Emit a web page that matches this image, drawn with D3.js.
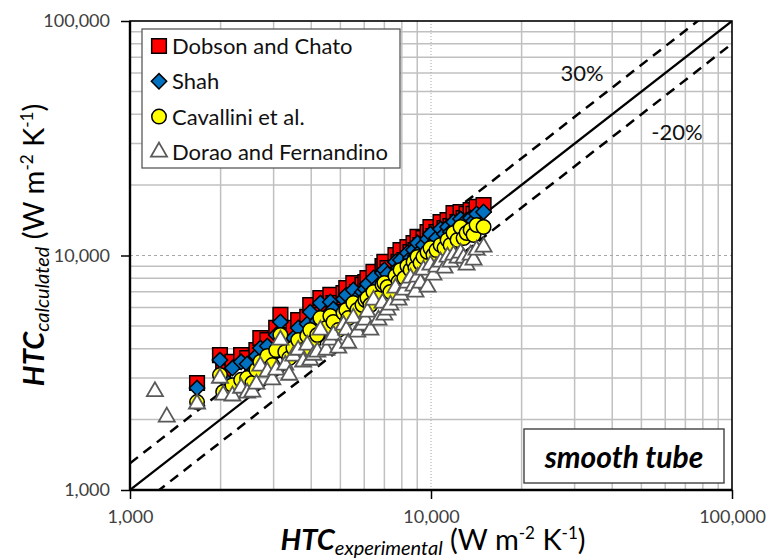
<!DOCTYPE html>
<html>
<head>
<meta charset="utf-8">
<script src="https://cdn.jsdelivr.net/npm/d3@7"></script>
<style>
    body { margin: 0; background: #fff; }
    svg { font-family: Lato, 'Open Sans', sans-serif; }
    .grid line { stroke: #c0c0c0; stroke-width: 1.5; }
    .axis text { fill: #404040; font-size: 18px; font-family: Lato, sans-serif; }
    .axis line { stroke: #000; stroke-width: 1.5; }
</style>
</head>
<body>
<svg width="766" height="560"></svg>
<script>
const axisRange = [1000, 100000];
const decades = [1000, 10000, 100000];

const seriesNames = ['Dobson and Chato', 'Shah', 'Cavallini et al.', 'Dorao and Fernandino'];

// HTC experimental (W m-2 K-1), shared by all four correlations
const htcExp = [1210, 1325, 1670, 1990, 2040, 2190, 2340, 2450, 2550, 2630, 2710, 2860,
    2970, 3060, 3160, 3280, 3380, 3490, 3620, 3760, 3880, 3970, 4070, 4190, 4290, 4490,
    4630, 4740, 4920, 5120, 5230, 5310, 5520, 5690, 5920, 6050, 6150, 6290, 6440, 6690,
    6900, 7000, 7170, 7330, 7620, 7800, 7920, 8160, 8350, 8550, 8750, 8880, 9020, 9230,
    9440, 9740, 9960, 10190, 10430, 10760, 11090, 11350, 11610, 11880, 12250, 12540,
    12830, 13130, 13540, 13850, 14170, 14950];

const dobsonChato = [null, null, 2860, 3760, 3190, 3520, 3760, 3650, 3310, 3950, 4450, 4360,
    3950, 4910, 5580, 4580, 4360, 4910, 5310, 4720, 5470, 6150, 5050, 5580, 6590, 5860,
    6790, 6270, 5740, 6920, 7270, 6460, 7630, 6990, 7490, 7710, 8020, 7270, 8510, 7860,
    9020, 9390, 8840, 8260, 10050, 9390, 10550, 9570, 10870, 10350, 11300, 10550, 12000, 11090,
    11870, 12600, 13230, 12110, 12600, 13900, 13090, 14170, 13360, 15170, 13900, 15330,
    14440, 15040, 15630, 15040, 16110, 16420];

const shah = [null, null, 2720, 3580, 3000, 3310, 3520, 3450, 3190, 3730, 4030, 4110,
    3730, 4580, 5210, 4360, 4110, 4450, 4910, 4450, 5100, 5740, 4760, 5250, 6270, 5520,
    6340, 5910, 5410, 6530, 6790, 6090, 7130, 6590, 6990, 7200, 7560, 6920, 8020, 7490,
    8420, 8680, 8340, 7780, 9390, 8840, 9570, 9020, 10250, 9750, 10550, 9950, 11300, 10450,
    11090, 11760, 12350, 11300, 11870, 12970, 12350, 13230, 12600, 13900, 13090, 14310,
    13630, 14170, 14440, 14030, 15040, 15330];

const cavallini = [null, null, 2370, 3090, 2620, 2800, 2950, 3000, 2860, 3250, 3520, 3730,
    3410, 3950, 4580, 3880, 3650, 4030, 4360, 3950, 4540, 4810, 4280, 4580, 5410, 4910,
    5520, 5210, 4810, 5690, 5860, 5410, 6270, 5860, 6150, 6460, 6590, 6150, 6990, 6590,
    7490, 7630, 7340, 6990, 8180, 7710, 8680, 8020, 9020, 8680, 9390, 8840, 9860, 9290,
    9860, 10350, 10760, 10050, 10550, 11090, 10760, 11650, 11090, 12470, 11650, 13230,
    11870, 12470, 12850, 12230, 13490, 13230];

const dorao = [2630, 2050, 2330, 3000, 2540, 2520, 2720, 2590, 2620, 2830, 3380, 3190,
    2950, 3250, 4360, 3410, 3090, 3730, 3950, 3520, 4150, 3580, 3760, 3880, 4810, 3950,
    4360, 4580, 4030, 5050, 4810, 4230, 5410, 4720, 5050, 5310, 5740, 4810, 6460, 5310,
    6270, 5580, 5860, 6150, 7270, 6460, 6790, 7130, 7630, 8020, 7410, 6990, 8100, 7630,
    8680, 7340, 9110, 8260, 8940, 9390, 8840, 9860, 9390, 10050, 9750, 10250,
    9750, 9110, 10050, 9570, 10550, 10870];

const seriesValues = [dobsonChato, shah, cavallini, dorao];

// y = f * x reference lines: parity, +30 %, -20 %
const refFactors = [1, 1.3, 0.8];

const markers = [
    { shape: d3.symbolSquare, size: 215, rotate: 0, fill: '#ff0000', stroke: '#000', sw: 1.5 },
    { shape: d3.symbolSquare, size: 118, rotate: 45, fill: '#0070c0', stroke: '#000', sw: 1.5 },
    { shape: d3.symbolCircle, size: 165, rotate: 0, fill: '#ffff00', stroke: '#000', sw: 1.5 },
    { shape: d3.symbolTriangle, size: 112, rotate: 0, fill: '#ffffff', stroke: '#595959', sw: 1.8 }
];

const svg = d3.select('svg');

const plot = { left: 130, right: 732, top: 21, bottom: 490 };

const xScale = d3.scaleLog().domain(axisRange).range([plot.left, plot.right]);
const yScale = d3.scaleLog().domain(axisRange).range([plot.bottom, plot.top]);

const minorX = xScale.ticks().filter((v) => !decades.includes(v));
const minorY = yScale.ticks().filter((v) => !decades.includes(v));

const grid = svg.append('g').attr('class', 'grid');

grid.selectAll('.gx')
    .data(minorX)
    .enter()
    .append('line')
    .attr('x1', (d) => xScale(d))
    .attr('x2', (d) => xScale(d))
    .attr('y1', plot.top)
    .attr('y2', plot.bottom);

grid.selectAll('.gy')
    .data(minorY)
    .enter()
    .append('line')
    .attr('x1', plot.left)
    .attr('x2', plot.right)
    .attr('y1', (d) => yScale(d))
    .attr('y2', (d) => yScale(d));

// the 10,000 lines are thin and broken
svg.append('line')
    .attr('x1', xScale(10000)).attr('x2', xScale(10000))
    .attr('y1', plot.top).attr('y2', plot.bottom)
    .attr('stroke', '#a6a6a6').attr('stroke-width', 1)
    .attr('stroke-dasharray', '1,2');

svg.append('line')
    .attr('x1', plot.left).attr('x2', plot.right)
    .attr('y1', yScale(10000)).attr('y2', yScale(10000))
    .attr('stroke', '#a6a6a6').attr('stroke-width', 1)
    .attr('stroke-dasharray', '3,3');

svg.append('clipPath')
    .attr('id', 'clip')
    .append('rect')
    .attr('x', plot.left)
    .attr('y', plot.top)
    .attr('width', plot.right - plot.left)
    .attr('height', plot.bottom - plot.top);

const line = d3.line()
    .x((d) => xScale(d[0]))
    .y((d) => yScale(d[1]));

svg.append('g')
    .attr('clip-path', 'url(#clip)')
    .selectAll('path')
    .data(refFactors)
    .enter()
    .append('path')
    .attr('d', (f) => line(axisRange.map((v) => [v, v * f])))
    .attr('fill', 'none')
    .attr('stroke', '#000')
    .attr('stroke-width', (f) => f === 1 ? 2.2 : 2.5)
    .attr('stroke-dasharray', (f) => f === 1 ? null : '10,7');

// plot frame
svg.append('rect')
    .attr('x', plot.left)
    .attr('y', plot.top)
    .attr('width', plot.right - plot.left)
    .attr('height', plot.bottom - plot.top)
    .attr('fill', 'none')
    .attr('stroke', '#000')
    .attr('stroke-width', 1.6);

svg.append('line')
    .attr('x1', plot.left).attr('x2', plot.right)
    .attr('y1', plot.bottom).attr('y2', plot.bottom)
    .attr('stroke', '#000').attr('stroke-width', 2.4);

svg.append('line')
    .attr('x1', plot.left).attr('x2', plot.left)
    .attr('y1', plot.top).attr('y2', plot.bottom)
    .attr('stroke', '#000').attr('stroke-width', 2.4);

const yAxis = svg.append('g')
    .attr('class', 'axis')
    .attr('transform', `translate(${plot.left}, 0)`)
    .call(d3.axisLeft(yScale)
        .tickValues(decades)
        .tickFormat(d3.format(','))
        .tickSize(9)
        .tickPadding(11));
yAxis.select('.domain').remove();

const xAxis = svg.append('g')
    .attr('class', 'axis')
    .attr('transform', `translate(0, ${plot.bottom})`)
    .call(d3.axisBottom(xScale)
        .tickValues(decades)
        .tickFormat(d3.format(','))
        .tickSize(9)
        .tickPadding(11));
xAxis.select('.domain').remove();

// scatter, first series at the bottom
seriesValues.forEach((values, s) => {
    const m = markers[s];
    const pts = htcExp
        .map((x, i) => [x, values[i]])
        .filter((p) => p[1] != null);

    svg.append('g')
        .selectAll('path')
        .data(pts)
        .enter()
        .append('path')
        .attr('d', d3.symbol(m.shape, m.size))
        .attr('transform', (p) => `translate(${xScale(p[0])}, ${yScale(p[1])}) rotate(${m.rotate})`)
        .attr('fill', m.fill)
        .attr('stroke', m.stroke)
        .attr('stroke-width', m.sw);
});

// legend
const legend = svg.append('g');

legend.append('rect')
    .attr('x', 142)
    .attr('y', 29)
    .attr('width', 258)
    .attr('height', 139)
    .attr('fill', '#fff')
    .attr('stroke', '#595959')
    .attr('stroke-width', 1.3);

const items = legend.selectAll('.item')
    .data(seriesNames)
    .enter()
    .append('g')
    .attr('transform', (d, i) => `translate(159, ${46 + i * 35.3})`);

items.append('path')
    .attr('d', (d, i) => d3.symbol(markers[i].shape, markers[i].size)())
    .attr('transform', (d, i) => `rotate(${markers[i].rotate})`)
    .attr('fill', (d, i) => markers[i].fill)
    .attr('stroke', (d, i) => markers[i].stroke)
    .attr('stroke-width', (d, i) => markers[i].sw);

items.append('text')
    .attr('x', 13)
    .attr('dy', '0.36em')
    .attr('font-size', 22)
    .attr('fill', '#111')
    .text((d) => d);

// band labels
svg.append('text')
    .attr('x', 582)
    .attr('y', 81)
    .attr('text-anchor', 'middle')
    .attr('font-size', 22)
    .attr('fill', '#111')
    .text('30%');

svg.append('text')
    .attr('x', 677)
    .attr('y', 140)
    .attr('text-anchor', 'middle')
    .attr('font-size', 22)
    .attr('fill', '#111')
    .text('-20%');

// smooth tube box
svg.append('rect')
    .attr('x', 524)
    .attr('y', 429)
    .attr('width', 200)
    .attr('height', 54)
    .attr('fill', '#fff')
    .attr('stroke', '#404040')
    .attr('stroke-width', 1.4);

svg.append('text')
    .attr('x', 624)
    .attr('y', 468)
    .attr('text-anchor', 'middle')
    .attr('font-size', 30)
    .attr('font-weight', 'bold')
    .attr('font-style', 'italic')
    .attr('fill', '#000')
    .text('smooth tube');

function axisTitle(g, sub) {
    const t = g.append('text')
        .attr('text-anchor', 'middle')
        .attr('font-size', 29)
        .attr('fill', '#000');
    t.append('tspan').attr('font-weight', 'bold').attr('font-style', 'italic').text('HTC');
    t.append('tspan').attr('font-style', 'italic').attr('font-size', 20).attr('dy', 5).text(sub);
    t.append('tspan').attr('dy', -5).text(' (W m');
    t.append('tspan').attr('font-size', 17).attr('dy', -11).text('-2');
    t.append('tspan').attr('dy', 11).text(' K');
    t.append('tspan').attr('font-size', 17).attr('dy', -11).text('-1');
    t.append('tspan').attr('dy', 11).text(')');
}

axisTitle(svg.append('g').attr('transform', 'translate(433, 550)'), 'experimental');
axisTitle(svg.append('g').attr('transform', 'translate(44, 245) rotate(-90)'), 'calculated');
</script>
</body>
</html>
